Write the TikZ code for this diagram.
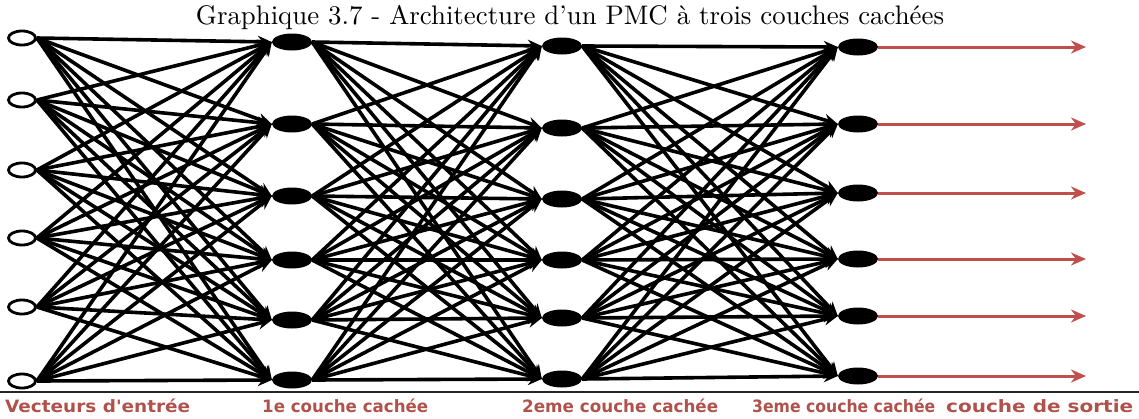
\documentclass[tikz,border=0pt]{standalone}
\usepackage{graphicx}
\usepackage{fontspec}
\newfontfamily\labelfont{DejaVu Sans}
\usetikzlibrary{arrows.meta,shapes.geometric,backgrounds}

\definecolor{lbl}{HTML}{B0524B}
\definecolor{outred}{HTML}{C0504D}

\tikzset{
  inp/.style={ellipse, draw=black, line width=2.8pt, fill=white,
    minimum width=27pt, minimum height=14pt, inner sep=0pt},
  hid/.style={ellipse, fill=black, minimum width=40pt, minimum height=17pt, inner sep=0pt},
  link/.style={line width=3.6pt, black, -{Stealth[length=14pt,width=12pt]}},
  outarrow/.style={outred, line width=3pt, -{Stealth[length=15pt,width=13pt]}},
  lab/.style={text=lbl, font=\labelfont\bfseries\fontsize{17}{20}\selectfont,
    anchor=base west, inner sep=0pt},
}
% layer name squeezed or stretched to a given width, height unchanged
\newcommand{\layername}[2]{\resizebox{#1}{\height}{#2}}

\begin{document}
\begin{tikzpicture}[x=1pt,y=-1pt]
\useasboundingbox (0,0) rectangle (1139,418);

% title
\node (title) at (570,17) {\resizebox{748pt}{!}{Graphique 3.7 - Architecture d'un PMC à trois couches cachées}};

% layers
\foreach \y [count=\i] in {38,100,170,238,307,381}
  \node[inp] (i\i) at (22,\y) {};
\foreach \y [count=\i] in {42,124,196,260,320,380}
  \node[hid] (a\i) at (292,\y) {};
\foreach \y [count=\i] in {46,128,199,260,318,379}
  \node[hid] (b\i) at (562,\y) {};
\foreach \y [count=\i] in {47,124,193,259,316,376}
  \node[hid] (c\i) at (858,\y) {};
\foreach \y [count=\i] in {47,124,193,259,316,376}
  \coordinate (o\i) at (1086,\y);

% fully connected links
\begin{pgfonlayer}{background}
\foreach \j in {1,...,6}
  \foreach \k in {1,...,6} {
    \draw[link] (i\j.east) -- (a\k.west);
    \draw[link] (a\j.east) -- (b\k.west);
    \draw[link] (b\j.east) -- (c\k.west);
  }
\end{pgfonlayer}

% outputs
\foreach \i in {1,...,6}
  \draw[outarrow] (c\i.east) -- (o\i);

% base line and layer names
\coordinate (bl) at (0,392);
\coordinate (br) at (1139,392);
\draw[line width=1.6pt, black!85] (bl) -- (br);

\node[lab] (l0) at (5,412) {\layername{185pt}{Vecteurs d'entrée}};
\node[lab] (l1) at (262,412) {\layername{166pt}{1e couche cachée}};
\node[lab] (l2) at (522,412) {\layername{196pt}{2eme couche cachée}};
\node[lab] (l3) at (752,412) {\layername{183pt}{3eme couche cachée}};
\node[lab] (l4) at (946,412) {\layername{187pt}{couche de sortie}};
\end{tikzpicture}
\end{document}
